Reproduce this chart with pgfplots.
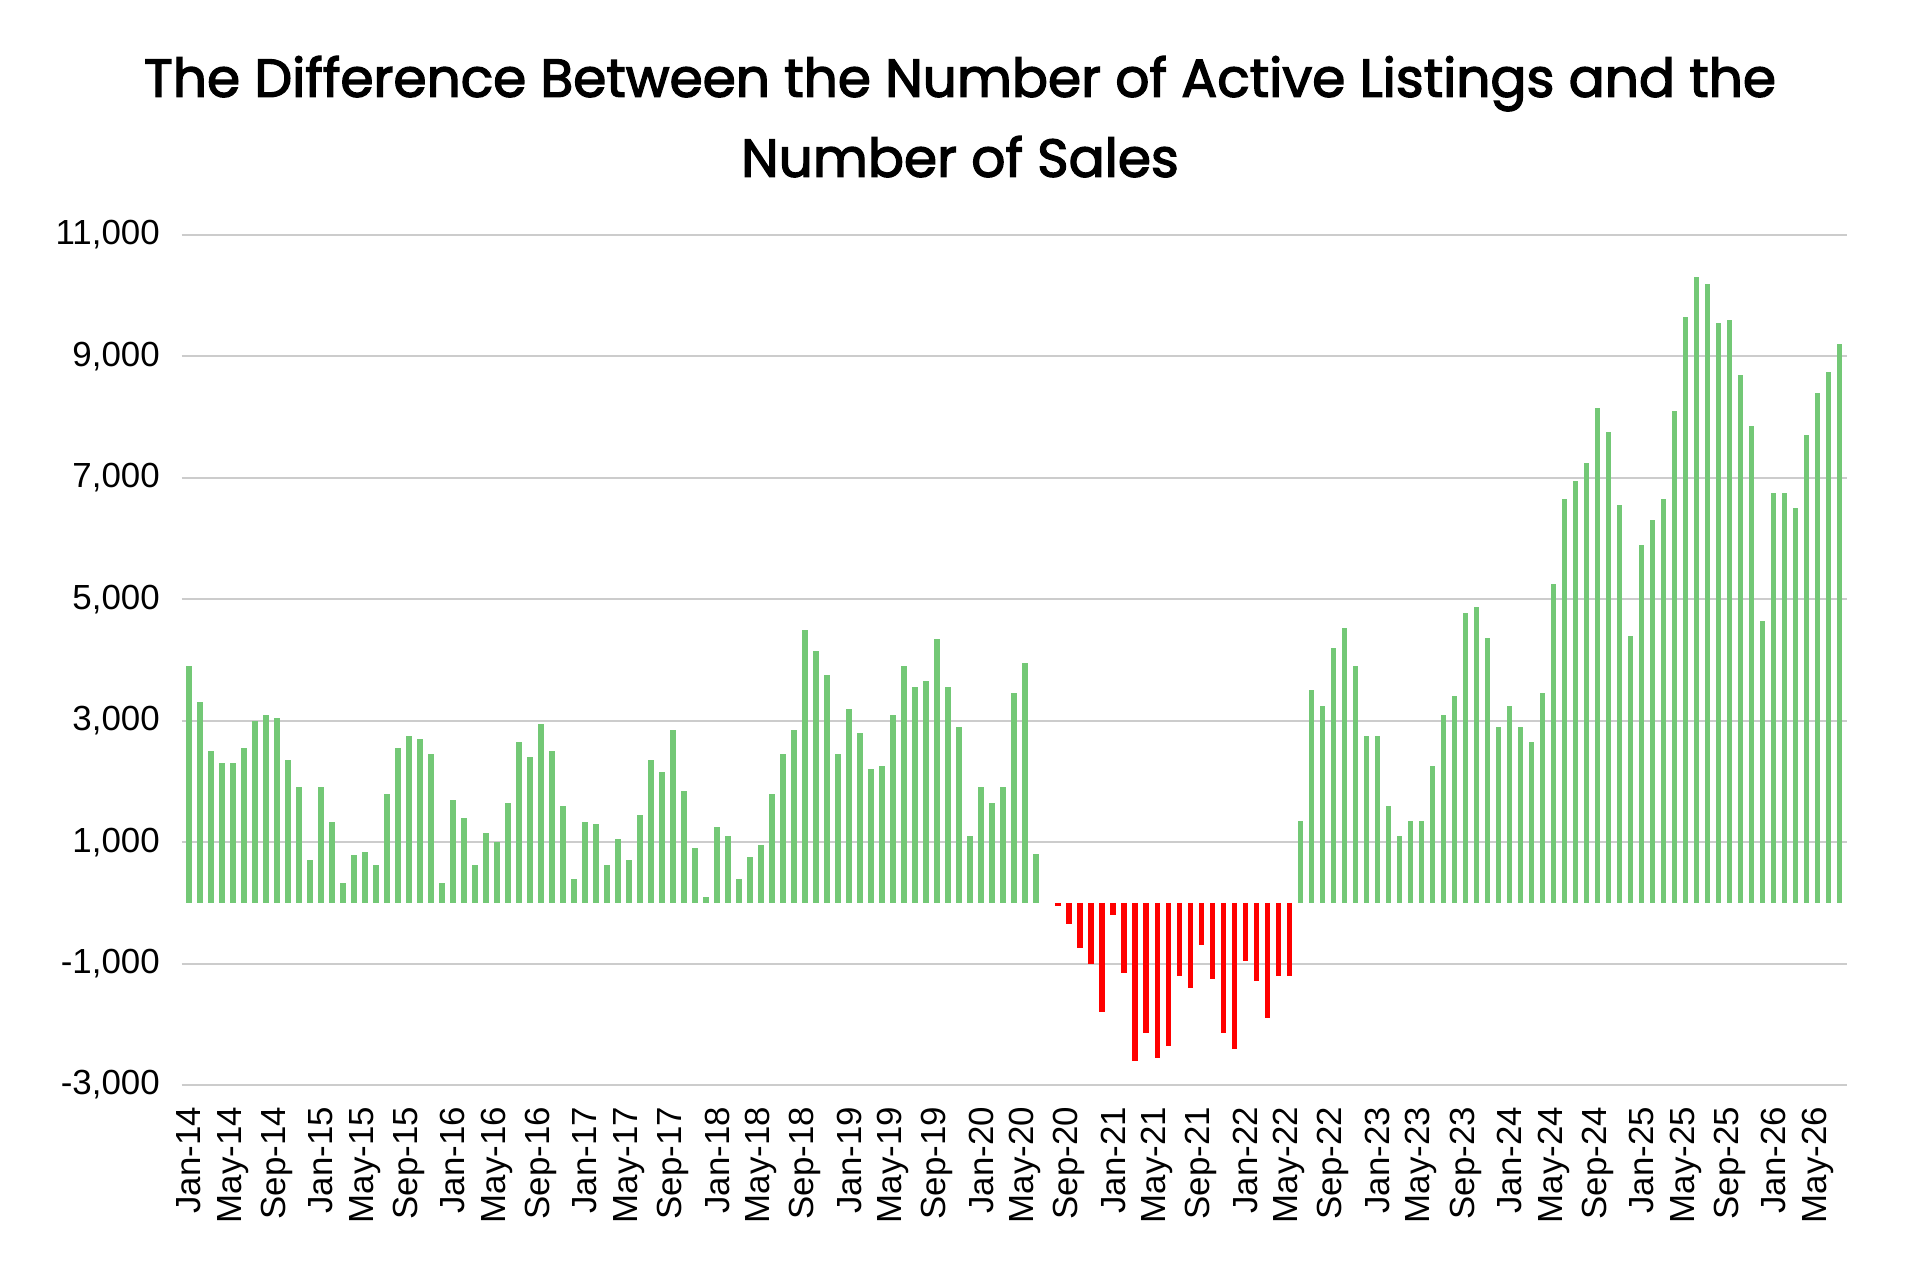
\documentclass[border=0pt]{standalone}
\usepackage{fontspec}
\setmainfont{Liberation Sans}
\newfontfamily\titlefont[FakeBold=2.5]{Poppins}
\usepackage{pgfplots}
\pgfplotsset{compat=1.18}
\usepackage{pgfplotstable}
\definecolor{barGreen}{HTML}{73C876}
\definecolor{barRed}{HTML}{FF0000}
\definecolor{gridGrey}{HTML}{CCCCCC}

\pgfplotstableread{
k v
0 3900
1 3300
2 2500
3 2300
4 2300
5 2550
6 3000
7 3100
8 3050
9 2350
10 1900
11 700
12 1900
13 1330
14 330
15 780
16 835
17 630
18 1800
19 2550
20 2750
21 2700
22 2450
23 330
24 1700
25 1400
26 630
27 1150
28 1000
29 1650
30 2650
31 2400
32 2950
33 2500
34 1600
35 400
36 1330
37 1300
38 630
39 1050
40 700
41 1450
42 2350
43 2150
44 2850
45 1850
46 900
47 100
48 1250
49 1100
50 400
51 750
52 950
53 1800
54 2450
55 2850
56 4500
57 4150
58 3750
59 2450
60 3200
61 2800
62 2200
63 2250
64 3100
65 3900
66 3550
67 3650
68 4350
69 3550
70 2900
71 1100
72 1900
73 1650
74 1900
75 3450
76 3950
77 800
101 1350
102 3500
103 3250
104 4200
105 4530
106 3900
107 2750
108 2750
109 1600
110 1100
111 1350
112 1350
113 2250
114 3100
115 3400
116 4780
117 4880
118 4370
119 2900
120 3250
121 2900
122 2650
123 3450
124 5250
125 6650
126 6950
127 7250
128 8150
129 7750
130 6550
131 4400
132 5900
133 6300
134 6650
135 8100
136 9650
137 10300
138 10200
139 9550
140 9600
141 8700
142 7850
143 4650
144 6750
145 6750
146 6500
147 7700
148 8400
149 8750
150 9200
}\posdata

\pgfplotstableread{
k v
79 -60
80 -350
81 -750
82 -1000
83 -1800
84 -200
85 -1150
86 -2600
87 -2150
88 -2550
89 -2350
90 -1200
91 -1400
92 -700
93 -1250
94 -2150
95 -2400
96 -950
97 -1290
98 -1900
99 -1200
100 -1200
}\negdata

\begin{document}
\begin{tikzpicture}
\useasboundingbox (0,0) rectangle (960bp,640bp);
\node[anchor=base, inner sep=0pt, font=\titlefont\fontsize{26.8}{32}\selectfont] at (480bp,591.6bp) {The Difference Between the Number of Active Listings and the};
\node[anchor=base, inner sep=0pt, font=\titlefont\fontsize{26.8}{32}\selectfont] at (480bp,551.6bp) {Number of Sales};
\begin{axis}[
  at={(90.85bp,97.5bp)}, anchor=south west,
  width=832.8bp, height=425bp, scale only axis,
  xmin=-0.65, xmax=150.7, ymin=-3000, ymax=11000,
  ytick={-3000,-1000,...,11000},
  ymajorgrids, grid style={draw=gridGrey, line width=1bp},
  axis line style={draw=none},
  major tick length=0pt,
  xtick={0,4,...,148},
  xticklabels={Jan-14,May-14,Sep-14,Jan-15,May-15,Sep-15,Jan-16,May-16,Sep-16,Jan-17,May-17,Sep-17,Jan-18,May-18,Sep-18,Jan-19,May-19,Sep-19,Jan-20,May-20,Sep-20,Jan-21,May-21,Sep-21,Jan-22,May-22,Sep-22,Jan-23,May-23,Sep-23,Jan-24,May-24,Sep-24,Jan-25,May-25,Sep-25,Jan-26,May-26},
  x tick label style={rotate=90, anchor=east, font=\fontsize{17.5}{20}\selectfont, inner sep=0pt},
  y tick label style={anchor=east, font=\fontsize{17.5}{20}\selectfont, inner sep=0pt},
  xticklabel shift=10.8bp,
  yticklabel shift=10.8bp,
  scaled y ticks=false,
  /pgf/number format/assume math mode=true,
  /pgf/number format/1000 sep={,},
  clip=false,
]
\addplot[ycomb, draw=barGreen, line width=2.8bp, mark=none] table[x=k, y=v] {\posdata};
\addplot[ycomb, draw=barRed, line width=2.8bp, mark=none] table[x=k, y=v] {\negdata};
\end{axis}
\end{tikzpicture}
\end{document}
